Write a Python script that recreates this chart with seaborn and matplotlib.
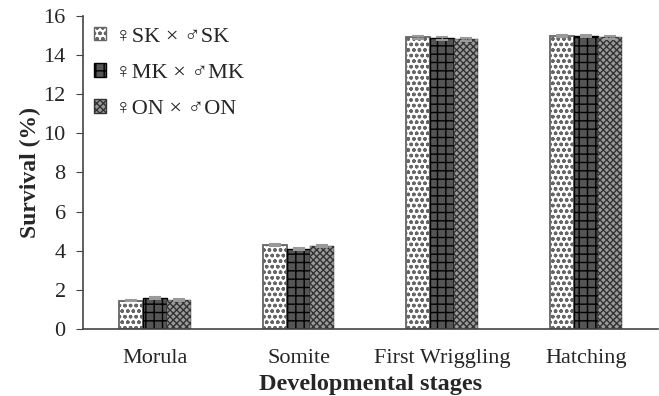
import matplotlib
matplotlib.use("Agg")
import matplotlib.pyplot as plt
import seaborn as sns
import pandas as pd
import numpy as np

stages = ["Morula", "Somite", "First Wriggling", "Hatching"]
crosses = ["♀SK × ♂SK", "♀MK × ♂MK", "♀ON × ♂ON"]
sk = [1.45, 4.30, 14.90, 14.95]
mk = [1.60, 4.10, 14.85, 14.95]
on = [1.50, 4.25, 14.80, 14.90]
err_sk = [0.04, 0.04, 0.06, 0.05]
err_mk = [0.04, 0.04, 0.06, 0.05]
err_on = [0.05, 0.04, 0.07, 0.06]

rows = []
for c, vals in zip(crosses, [sk, mk, on]):
    for s, v in zip(stages, vals):
        rows.append({"stage": s, "cross": c, "survival": v})
df = pd.DataFrame(rows)

sns.set_style("ticks")
plt.rcParams["font.family"] = ["Liberation Serif", "Noto Sans CJK JP", "DejaVu Serif"]
plt.rcParams["hatch.linewidth"] = 1.0

fig = plt.figure(figsize=(6.59, 3.96), dpi=100)
ax = fig.add_axes([0.126, 0.169, 0.872, 0.791])

sns.barplot(data=df, x="stage", y="survival", hue="cross", order=stages,
            hue_order=crosses, width=0.5, ax=ax, errorbar=None, legend=True,
            gap=0)

styles = [
    dict(facecolor="white", edgecolor="#666666", hatch="ooo", lw=1.3),
    dict(facecolor="#555555", edgecolor="#000000", hatch="++", lw=1.0),
    dict(facecolor="#9a9a9a", edgecolor="#333333", hatch="xxxxx", lw=0.3),
]
errs = [err_sk, err_mk, err_on]
for cont, st, er in zip(ax.containers, styles, errs):
    xs = []
    hs = []
    for p in cont:
        p.set_facecolor(st["facecolor"])
        p.set_edgecolor(st["edgecolor"])
        p.set_hatch(st["hatch"])
        p.set_linewidth(st["lw"])
        xs.append(p.get_x() + p.get_width() / 2)
        hs.append(p.get_height())
    ax.errorbar(xs, hs, yerr=er, fmt="none", ecolor="#999999", elinewidth=1,
                capsize=4, capthick=1.5)

ax.set_ylim(0, 16)
ax.set_yticks(range(0, 17, 2))
ax.set_xlim(-0.5, 3.5)
ax.tick_params(axis="x", length=0, labelsize=16, pad=14)
ax.tick_params(axis="y", length=5, labelsize=16, direction="out", color="#444444", pad=7.5)
ax.set_xlabel("Developmental stages", fontsize=17.5, fontweight="bold", labelpad=5)
ax.set_ylabel("Survival (%)", fontsize=17, fontweight="bold", labelpad=2)
for s in ["top", "right"]:
    ax.spines[s].set_visible(False)
for s in ["left", "bottom"]:
    ax.spines[s].set_color("#444444")
    ax.spines[s].set_linewidth(1.2)

handles, labels = ax.get_legend_handles_labels()
for h, st in zip(handles, styles):
    h.set_facecolor(st["facecolor"])
    h.set_edgecolor(st["edgecolor"])
    h.set_hatch(st["hatch"])
ax.legend(handles, labels, loc="upper left", bbox_to_anchor=(0.0, 1.0),
          frameon=False, fontsize=16, handlelength=0.55, handleheight=0.55,
          handletextpad=0.4, labelspacing=0.75, borderaxespad=0.1)

fig.savefig("out.png", dpi=100)
